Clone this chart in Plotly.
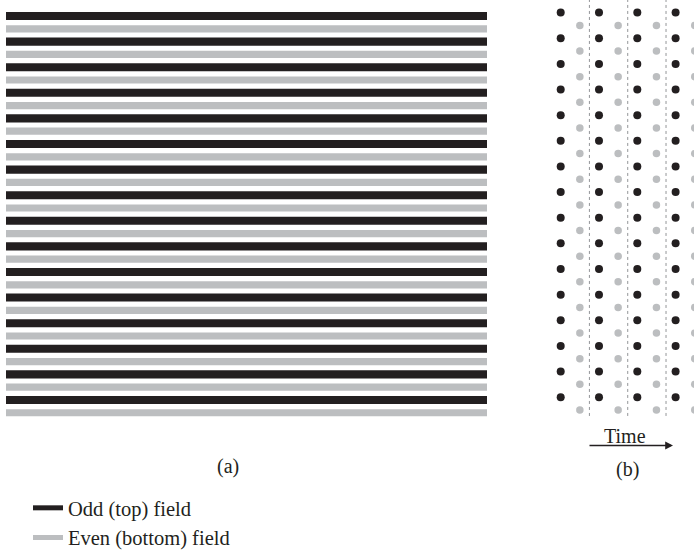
import plotly.graph_objects as go

# ---- data ----
scan_lines = list(range(1, 33))                 # 32 scan lines of the frame
odd_lines = [k for k in scan_lines if k % 2 == 1]   # odd (top) field
even_lines = [k for k in scan_lines if k % 2 == 0]  # even (bottom) field
line_length = [1.0] * 16                        # full-width scan line

field_times = [0, 1, 2, 3, 4, 5, 6, 7]          # successive field instants
odd_times = [t for t in field_times if t % 2 == 0]
even_times = [t for t in field_times if t % 2 == 1]
frame_boundaries = [1.5, 3.5, 5.5]              # between frames (two fields each)

legend_labels = ["Odd (top) field", "Even (bottom) field"]

BLACK = "#231f20"
GRAY = "#bcbec0"
FONT = "Liberation Serif, Times New Roman, DejaVu Serif, serif"

fig = go.Figure()

# ---- panel (a): interlaced scan lines ----
fig.add_trace(go.Bar(orientation="h", x=line_length, y=odd_lines, width=0.63,
                     marker=dict(color=BLACK, line=dict(width=0)),
                     xaxis="x", yaxis="y", showlegend=False, hoverinfo="skip"))
fig.add_trace(go.Bar(orientation="h", x=line_length, y=even_lines, width=0.56,
                     marker=dict(color=GRAY, line=dict(width=0)),
                     xaxis="x", yaxis="y", showlegend=False, hoverinfo="skip"))

# ---- panel (b): vertical-temporal sampling ----
bx, by, gx, gy = [], [], [], []
for t in odd_times:
    for k in odd_lines:
        bx.append(t); by.append(k)
for t in even_times:
    for k in even_lines:
        gx.append(t); gy.append(k)

lx, ly = [], []
for b in frame_boundaries:
    lx += [b, b, None]
    ly += [-1, 32.6, None]
fig.add_trace(go.Scatter(x=lx, y=ly, mode="lines",
                         line=dict(color="#939598", width=1, dash="dot"),
                         xaxis="x2", yaxis="y2", showlegend=False, hoverinfo="skip"))
fig.add_trace(go.Scatter(x=bx, y=by, mode="markers",
                         marker=dict(color=BLACK, size=8),
                         xaxis="x2", yaxis="y2", showlegend=False, hoverinfo="skip"))
fig.add_trace(go.Scatter(x=gx, y=gy, mode="markers",
                         marker=dict(color=GRAY, size=7.5),
                         xaxis="x2", yaxis="y2", showlegend=False, hoverinfo="skip"))

# ---- legend entries ----
fig.add_trace(go.Scatter(x=[None], y=[None], mode="lines", name=legend_labels[0],
                         line=dict(color=BLACK, width=5)))
fig.add_trace(go.Scatter(x=[None], y=[None], mode="lines", name=legend_labels[1],
                         line=dict(color=GRAY, width=5)))

W, H = 694, 550
fig.update_layout(
    width=W, height=H, autosize=False,
    margin=dict(l=0, r=0, t=0, b=0, pad=0, autoexpand=False),
    paper_bgcolor="white", plot_bgcolor="rgba(0,0,0,0)",
    font=dict(family=FONT, size=20, color=BLACK),
    barmode="overlay",
    xaxis=dict(domain=[6 / W, 487 / W], range=[0, 1], visible=False),
    yaxis=dict(domain=[0, 1], range=[42.72, -0.25], visible=False),
    xaxis2=dict(domain=[0.78, 1], range=[-1.012, 6.961], visible=False),
    yaxis2=dict(domain=[0, 1], range=[42.92, 0.017], visible=False, anchor="x2"),
    legend=dict(x=28 / W, xanchor="left", y=1 - 488 / H, yanchor="top",
                font=dict(family=FONT, size=20.5, color=BLACK),
                bgcolor="rgba(0,0,0,0)", tracegroupgap=0, itemwidth=30),
    showlegend=True,
    annotations=[
        dict(text="(a)", x=228 / W, y=1 - 466 / H, xref="paper", yref="paper",
             showarrow=False, xanchor="center", yanchor="middle"),
        dict(text="(b)", x=627 / W, y=1 - 469 / H, xref="paper", yref="paper",
             showarrow=False, xanchor="center", yanchor="middle"),
        dict(text="Time", x=625 / W, y=1 - 436 / H, xref="paper", yref="paper",
             showarrow=False, xanchor="center", yanchor="middle"),
        dict(text="", x=673 / W, y=1 - 445.5 / H, xref="paper", yref="paper",
             ax=-85, ay=0, showarrow=True, arrowhead=2, arrowsize=1.2,
             arrowwidth=1.3, arrowcolor=BLACK, standoff=0),
    ],
)

fig.write_html("out.html",
               config={"responsive": False, "displayModeBar": False, "staticPlot": True},
               post_script="document.body.style.margin='0';")
